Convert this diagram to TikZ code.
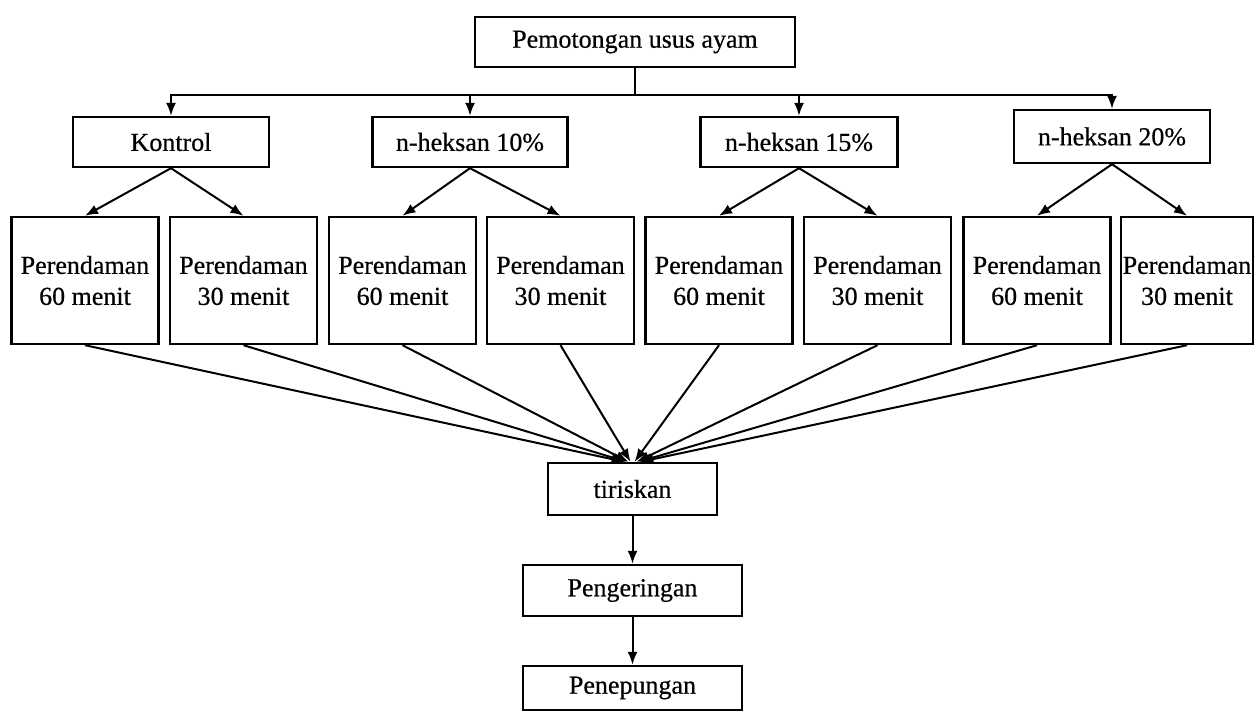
\documentclass[tikz,border=0pt]{standalone}
\usepackage{fontspec}
\setmainfont{Liberation Serif}[FakeBold=0.5]
\usetikzlibrary{arrows.meta,calc}
\begin{document}
\begin{tikzpicture}[x=1pt,y=-1pt,
  box/.style={draw,line width=2.4pt,inner sep=0pt,align=center,
    font=\fontsize{26}{31}\selectfont},
  arr/.style={line width=2pt,-{Latex[length=13pt,width=10pt]}},
  ln/.style={line width=2pt}]
\useasboundingbox (0,0) rectangle (1255,712);
\node[box,minimum width=320pt,minimum height=50pt] (top) at (635,42) {Pemotongan usus ayam};
\node[box,minimum width=196pt,minimum height=50pt] (k) at (171,142) {Kontrol};
\node[box,minimum width=195pt,minimum height=50pt] (h10) at (470,142) {n-heksan 10\%};
\node[box,minimum width=197pt,minimum height=50pt] (h15) at (799,142) {n-heksan 15\%};
\node[box,minimum width=196pt,minimum height=53pt] (h20) at (1112,136.5) {n-heksan 20\%};
\foreach \n/\x/\t in {b1/85/60,b2/243.5/30,b3/402.5/60,b4/560.5/30,b5/719/60,b6/877.5/30,b7/1037/60}
  \node[box,minimum width=147pt,minimum height=127pt] (\n) at (\x,280.5) {Perendaman\\\t\ menit};
\node[box,minimum width=132pt,minimum height=127pt] (b8) at (1187,280.5) {Perendaman\\30 menit};
\node[box,minimum width=169pt,minimum height=52pt] (tir) at (632.5,489) {tiriskan};
\node[box,minimum width=219pt,minimum height=51pt] (peng) at (632.5,590.5) {Pengeringan};
\node[box,minimum width=219pt,minimum height=44pt] (pene) at (632.5,688) {Penepungan};
\coordinate (bus) at (635,95);
\draw[ln] (top.south) -- (bus);
\foreach \c in {k,h10,h15,h20} \draw[arr] (bus) -| (\c.north);
\foreach \p/\a/\b in {k/b1/b2,h10/b3/b4,h15/b5/b6,h20/b7/b8} {
  \draw[arr] (\p.south) -- (\a.north);
  \draw[arr] (\p.south) -- (\b.north);
}
\foreach \c/\s in {b1/-8,b2/-6,b3/-4,b4/-2,b5/2,b6/4,b7/6,b8/8}
  \draw[arr] (\c.south) -- ($(tir.north)+(\s,0)$);
\draw[arr] (tir.south) -- (peng.north);
\draw[arr] (peng.south) -- (pene.north);
\end{tikzpicture}
\end{document}
